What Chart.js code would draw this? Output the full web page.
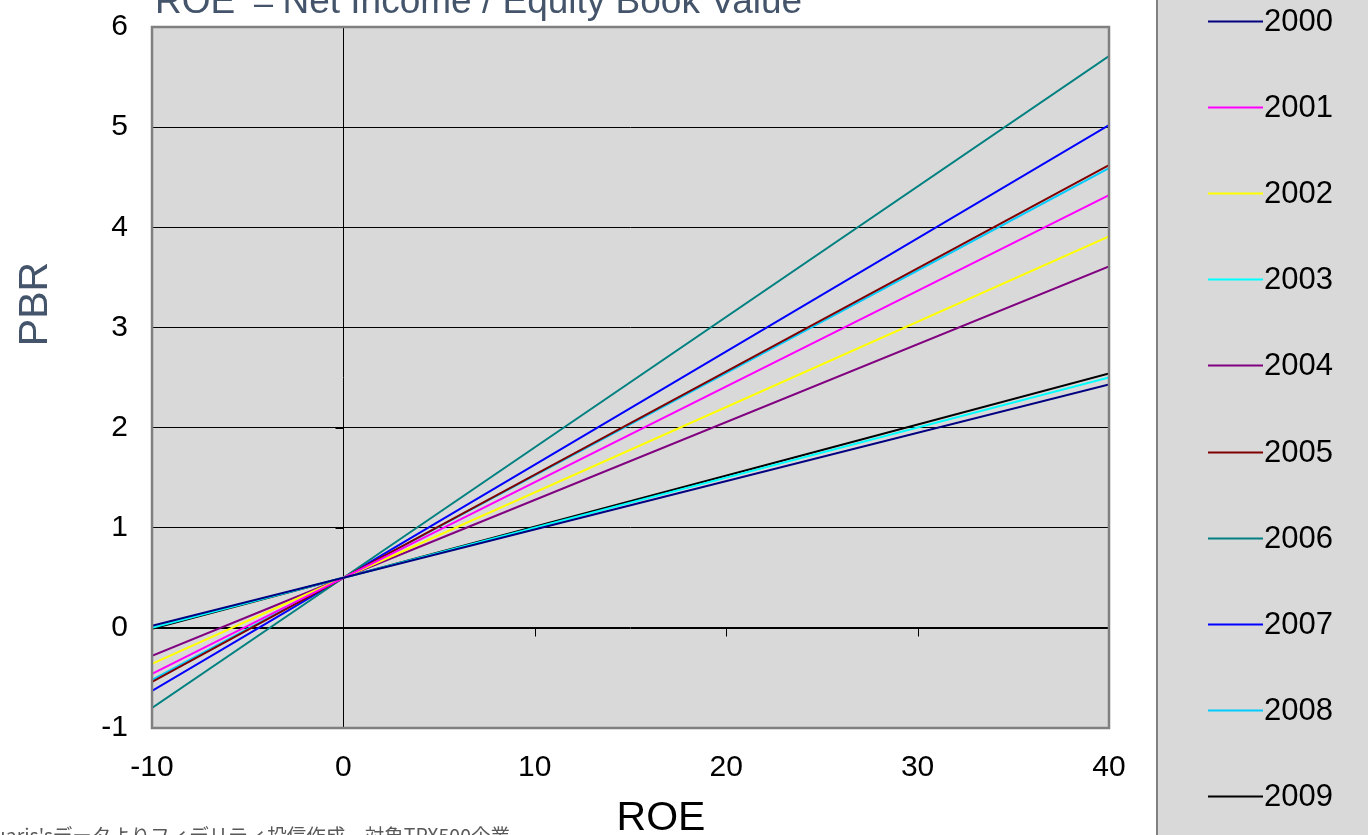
<!DOCTYPE html>
<html>
<head>
<meta charset="utf-8">
<script src="https://cdn.jsdelivr.net/npm/chart.js@4.4.1/dist/chart.umd.min.js"></script>
<style>
html, body { margin: 0; padding: 0; background: #fff; overflow: hidden; }
canvas { display: block; }
</style>
</head>
<body>
<canvas id="myChart" width="1368" height="835"></canvas>
<script>
// ROE values on the x axis
var roeValues = [-10, 0, 40];

var years = ['2000', '2001', '2002', '2003', '2004', '2005', '2006', '2007', '2008', '2009'];

// PBR at ROE = -10, 0, 40
var pbr2000 = [0.02, 0.5, 2.43];
var pbr2001 = [-0.46, 0.5, 4.32];
var pbr2002 = [-0.36, 0.5, 3.91];
var pbr2003 = [0.00, 0.5, 2.50];
var pbr2004 = [-0.28, 0.5, 3.61];
var pbr2005 = [-0.54, 0.5, 4.62];
var pbr2006 = [-0.80, 0.5, 5.71];
var pbr2007 = [-0.63, 0.5, 5.02];
var pbr2008 = [-0.52, 0.5, 4.59];
var pbr2009 = [-0.01, 0.5, 2.54];

var xTicks = [-10, 0, 10, 20, 30, 40];
var yTicks = [-1, 0, 1, 2, 3, 4, 5, 6];

var titleText = 'ROE \uFF1DNet Income / Equity Book Value';
var sourceText = '出所：Quaris\'sデータよりフィデリティ投信作成、対象TPX500企業';

var allPbr = [pbr2000, pbr2001, pbr2002, pbr2003, pbr2004, pbr2005, pbr2006, pbr2007, pbr2008, pbr2009];
var lineColors = ['#000080', '#FF00FF', '#FFFF00', '#00FFFF', '#800080', '#800000', '#008080', '#0000FF', '#00CCFF', '#000000'];

var FONT = '"Liberation Sans", Arial, sans-serif';

function toPoints(vals) {
    return vals.map(function (v, i) { return {x: roeValues[i], y: v}; });
}

var datasets = years.map(function (yr, i) {
    return {
        label: yr,
        data: toPoints(allPbr[i]),
        borderColor: lineColors[i],
        backgroundColor: lineColors[i],
        borderWidth: 2,
        pointRadius: 0,
        showLine: true,
        tension: 0
    };
});

var decor = {
    id: 'decor',
    beforeDraw: function (chart) {
        var c = chart.ctx, a = chart.chartArea;
        c.save();
        c.fillStyle = '#D9D9D9';
        c.fillRect(a.left, a.top, a.right - a.left, a.bottom - a.top);
        // legend panel
        c.fillRect(1157, 0, 1368 - 1157, 835);
        c.strokeStyle = '#808080';
        c.lineWidth = 2;
        c.beginPath();
        c.moveTo(1157, 0);
        c.lineTo(1157, 835);
        c.stroke();
        c.restore();
    },
    beforeDatasetsDraw: function (chart) {
        var c = chart.ctx, a = chart.chartArea;
        var xs = chart.scales.x, ys = chart.scales.y;
        var x0 = Math.round(xs.getPixelForValue(0)) + 0.5;
        var y0 = Math.round(ys.getPixelForValue(0)) + 0.5;
        c.save();
        c.strokeStyle = '#000';
        c.lineWidth = 1;
        c.beginPath();
        c.moveTo(x0, a.top);
        c.lineTo(x0, a.bottom);
        c.moveTo(a.left, y0);
        c.lineTo(a.right, y0);
        yTicks.forEach(function (v) {
            var py = Math.round(ys.getPixelForValue(v)) + 0.5;
            c.moveTo(x0 - 8, py);
            c.lineTo(x0, py);
        });
        xTicks.forEach(function (v) {
            var px = Math.round(xs.getPixelForValue(v)) + 0.5;
            c.moveTo(px, y0);
            c.lineTo(px, y0 + 8);
        });
        c.stroke();
        c.restore();
    },
    afterDraw: function (chart) {
        var c = chart.ctx, a = chart.chartArea;
        c.save();
        // plot border
        c.strokeStyle = '#808080';
        c.lineWidth = 2.5;
        c.strokeRect(a.left, a.top, a.right - a.left, a.bottom - a.top);

        // title (runs off the top edge)
        c.fillStyle = '#44546A';
        c.font = '37px ' + FONT;
        c.textAlign = 'left';
        c.textBaseline = 'alphabetic';
        c.fillText(titleText, 155, 13);

        // axis titles
        c.font = '41px ' + FONT;
        c.textAlign = 'center';
        c.fillStyle = '#000';
        c.fillText('ROE', 661, 830);
        c.save();
        c.translate(47, 304);
        c.rotate(-Math.PI / 2);
        c.fillStyle = '#44546A';
        c.fillText('PBR', 0, 0);
        c.restore();

        // source note
        c.font = '19.5px "Noto Sans CJK JP", sans-serif';
        c.fillStyle = '#595959';
        c.textAlign = 'right';
        c.fillText(sourceText, 510, 843);

        // legend
        c.font = '31px ' + FONT;
        c.textAlign = 'left';
        c.textBaseline = 'middle';
        chart.data.datasets.forEach(function (ds, i) {
            var ly = Math.round(21 + 86.1 * i) + 0.5;
            c.strokeStyle = ds.borderColor;
            c.lineWidth = 2;
            c.beginPath();
            c.moveTo(1208, ly);
            c.lineTo(1263, ly);
            c.stroke();
            c.fillStyle = '#000';
            c.fillText(ds.label, 1264, ly + 1);
        });
        c.restore();
    }
};

var ctx = document.getElementById('myChart');

var myChart = new Chart(ctx, {
    type: 'scatter',
    data: { datasets: datasets },
    options: {
        responsive: false,
        animation: false,
        layout: { padding: { top: 27, right: 259, left: 0, bottom: 0 } },
        plugins: {
            legend: { display: false },
            tooltip: { enabled: false },
            title: { display: false }
        },
        scales: {
            x: {
                type: 'linear',
                min: -10,
                max: 40,
                afterBuildTicks: function (s) { s.ticks = xTicks.map(function (v) { return {value: v}; }); },
                afterFit: function (s) { s.height = 107; s.paddingLeft = 0; s.paddingRight = 0; },
                ticks: { color: '#000', font: { family: FONT, size: 30 }, padding: 22, maxRotation: 0 },
                grid: { display: false, drawTicks: false },
                border: { display: false }
            },
            y: {
                min: -1,
                max: 6,
                afterBuildTicks: function (s) { s.ticks = yTicks.map(function (v) { return {value: v}; }); },
                afterFit: function (s) { s.width = 152; s.paddingTop = 0; s.paddingBottom = 0; },
                ticks: { color: '#000', font: { family: FONT, size: 30 }, padding: 24 },
                grid: { color: '#000', lineWidth: 1, drawTicks: false },
                border: { display: false }
            }
        }
    },
    plugins: [decor]
});
</script>
</body>
</html>
